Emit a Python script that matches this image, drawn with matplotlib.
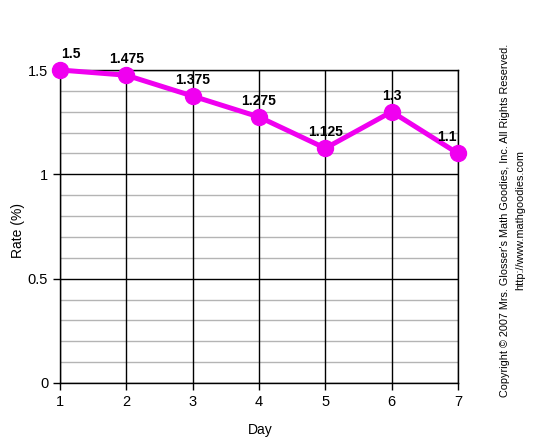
import matplotlib.pyplot as plt
import numpy as np

days = [1, 2, 3, 4, 5, 6, 7]
rates = [1.5, 1.475, 1.375, 1.275, 1.125, 1.3, 1.1]
point_labels = ["1.5", "1.475", "1.375", "1.275", "1.125", "1.3", "1.1"]
y_ticks = [0, 0.5, 1, 1.5]
y_tick_labels = ["0", "0.5", "1", "1.5"]

plt.rcParams['font.family'] = ['Liberation Sans', 'DejaVu Sans']

fig = plt.figure(figsize=(5.4, 4.45), dpi=100)
ax = fig.add_axes([60 / 540, 1 - 383 / 445, 398 / 540, 313 / 445])

ax.set_xlim(1, 7)
ax.set_ylim(0, 1.5)

# minor grid every 0.1, major lines black
for y in np.arange(0.1, 1.5, 0.1):
    if abs(y - round(y * 2) / 2) > 1e-6:
        ax.axhline(y, color='#b4b4b4', linewidth=1, zorder=1)
for y in y_ticks:
    ax.axhline(y, color='black', linewidth=1, zorder=1)
for x in days:
    ax.axvline(x, color='black', linewidth=1, zorder=1)

ax.plot(days, rates, color='#f000f0', linewidth=3.6, marker='o',
        markersize=11.5, zorder=3, clip_on=False)

for i, (x, y, lab) in enumerate(zip(days, rates, point_labels)):
    dx = 0
    if i == 0:
        dx = 8
    elif i == len(days) - 1:
        dx = -8
    ax.annotate(lab, (x, y), xytext=(dx, 11.5), textcoords='offset points',
                ha='center', va='center', fontsize=10, fontweight='bold',
                zorder=4)

ax.set_xticks(days)
ax.set_yticks(y_ticks)
ax.set_yticklabels(y_tick_labels)
ax.tick_params(labelsize=10.5, length=5, width=1, color='black')
for s in ax.spines.values():
    s.set_color('black')
    s.set_linewidth(1)

fig.text(18 / 540, 1 - 230 / 445, "Rate (%)", rotation=90, ha='center',
         va='center', fontsize=10)
fig.text(260 / 540, 1 - 430 / 445, "Day", ha='center', va='center',
         fontsize=10)

fig.text(505 / 540, 1 - 220 / 445,
         "Copyright \u00a9 2007 Mrs. Glosser's Math Goodies, Inc. All Rights Reserved.",
         rotation=90, ha='center', va='center', fontsize=7.8)
fig.text(520 / 540, 1 - 220 / 445, "http://www.mathgoodies.com",
         rotation=90, ha='center', va='center', fontsize=7.8)

fig.savefig("out.png", dpi=100)
